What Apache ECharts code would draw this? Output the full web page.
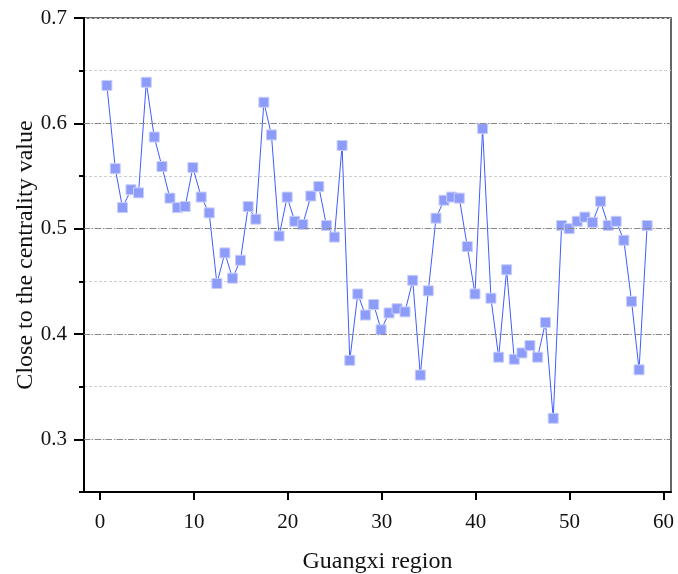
<!DOCTYPE html>
<html>
<head>
<meta charset="utf-8">
<script src="https://cdn.jsdelivr.net/npm/echarts@6/dist/echarts.min.js"></script>
<style>
  html, body { margin: 0; padding: 0; background: #fff; }
  #chart { width: 678px; height: 574px; }
</style>
</head>
<body>
<div id="chart"></div>
<script>
// region position along x
const regionX = [
  0.74, 1.63, 2.40, 3.30, 4.11, 4.93, 5.78, 6.60, 7.45, 8.26,
  9.07, 9.89, 10.78, 11.63, 12.45, 13.30, 14.11, 14.96, 15.78, 16.60,
  17.45, 18.26, 19.07, 19.93, 20.74, 21.60, 22.45, 23.30, 24.11, 24.96,
  25.78, 26.60, 27.45, 28.26, 29.15, 29.93, 30.78, 31.63, 32.48, 33.30,
  34.11, 34.96, 35.78, 36.63, 37.45, 38.26, 39.11, 39.93, 40.74, 41.63,
  42.45, 43.30, 44.11, 44.93, 45.78, 46.60, 47.43, 48.26, 49.15, 49.96,
  50.81, 51.63, 52.45, 53.30, 54.11, 54.96, 55.78, 56.60, 57.40, 58.26
]

// close to the centrality value
const centrality = [
  0.636, 0.557, 0.520, 0.537, 0.534, 0.639, 0.587, 0.559, 0.529, 0.520,
  0.521, 0.558, 0.530, 0.515, 0.448, 0.477, 0.453, 0.470, 0.521, 0.509,
  0.620, 0.589, 0.493, 0.530, 0.507, 0.504, 0.531, 0.540, 0.503, 0.492,
  0.579, 0.375, 0.438, 0.418, 0.428, 0.404, 0.420, 0.424, 0.421, 0.451,
  0.361, 0.441, 0.510, 0.527, 0.530, 0.529, 0.483, 0.438, 0.595, 0.434,
  0.378, 0.461, 0.376, 0.382, 0.389, 0.378, 0.411, 0.320, 0.503, 0.500,
  0.507, 0.511, 0.506, 0.526, 0.503, 0.507, 0.489, 0.431, 0.366, 0.503
]

const xTicks = [0, 10, 20, 30, 40, 50, 60]
const yLabels = [0.3, 0.4, 0.5, 0.6, 0.7]
const majorGrid = [0.3, 0.4, 0.5, 0.6]

const font = "'Liberation Serif', 'Times New Roman', serif"

const chart = echarts.init(document.getElementById('chart'))

const option = {
  animation: false,
  grid: {
    left: 84,
    right: 7,
    top: 18,
    bottom: 82,
    outerBoundsMode: 'none',
    containLabel: false,
    show: true,
    borderColor: '#333',
    borderWidth: 1.5,
    backgroundColor: 'transparent'
  },
  xAxis: {
    type: 'value',
    min: -1.7,
    max: 60.8,
    name: 'Guangxi region',
    nameLocation: 'middle',
    nameGap: 58,
    nameMoveOverlap: false,
    nameTextStyle: { fontFamily: font, fontSize: 24, color: '#111' },
    axisLine: { onZero: false, lineStyle: { color: '#000', width: 2 } },
    axisTick: { inside: false, length: 8, customValues: xTicks, lineStyle: { color: '#000', width: 2 } },
    axisLabel: { customValues: xTicks, margin: 20, fontFamily: font, fontSize: 21, color: '#111' },
    splitLine: { show: false }
  },
  yAxis: [
    {
      // minor ticks + light dotted grid every 0.05
      type: 'value',
      position: 'left',
      min: 0.25,
      max: 0.7,
      interval: 0.05,
      axisLine: { onZero: false, lineStyle: { color: '#000', width: 2 } },
      axisTick: { inside: false, length: 5, lineStyle: { color: '#000', width: 2 } },
      axisLabel: { show: false },
      splitLine: { show: true, lineStyle: { color: '#cfcfcf', width: 1, type: [3, 2] } }
    },
    {
      // major ticks and labels
      type: 'value',
      position: 'left',
      min: 0.25,
      max: 0.7,
      name: 'Close to the centrality value',
      nameLocation: 'middle',
      nameGap: 46,
      nameMoveOverlap: false,
      nameTextStyle: { fontFamily: font, fontSize: 24, color: '#111' },
      axisLine: { show: true, onZero: false, lineStyle: { color: '#000', width: 2 } },
      axisTick: { show: true, inside: false, length: 10, customValues: yLabels, lineStyle: { color: '#000', width: 2 } },
      axisLabel: {
        customValues: yLabels,
        margin: 17,
        fontFamily: font,
        fontSize: 21,
        color: '#111',
        formatter: v => v.toFixed(1)
      },
      splitLine: { show: false }
    }
  ],
  series: [
    {
      type: 'line',
      data: [],
      z: 1,
      silent: true,
      markLine: {
        silent: true,
        symbol: 'none',
        label: { show: false },
        lineStyle: { color: '#8a8a8a', width: 1, type: [6, 2, 1, 2] },
        data: majorGrid.map(v => ({ yAxis: v }))
      }
    },
    {
      name: 'centrality',
      type: 'line',
      z: 3,
      data: regionX.map((x, i) => [x, centrality[i]]),
      symbol: 'rect',
      symbolSize: 10,
      showSymbol: true,
      lineStyle: { color: '#3f5cff', width: 1 },
      itemStyle: { color: '#8e9cf9', borderColor: '#c8cffc', borderWidth: 1 }
    }
  ]
}

chart.setOption(option)
</script>
</body>
</html>
